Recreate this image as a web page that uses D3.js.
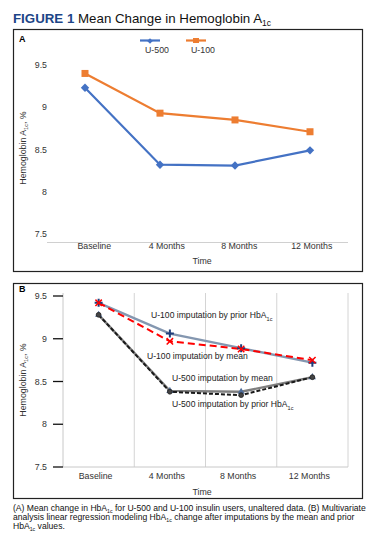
<!DOCTYPE html>
<html><head><meta charset="utf-8">
<script src="https://cdn.jsdelivr.net/npm/d3@7/dist/d3.min.js"></script>
<style>
html,body{margin:0;padding:0;background:#fff;}
svg{display:block;font-family:"Liberation Sans",Arial,Helvetica,sans-serif;}
</style></head>
<body>
<svg id="c" width="376" height="541"></svg>
<script>
// ---- data ----
const categories = ["Baseline", "4 Months", "8 Months", "12 Months"];
const yTicks = [7.5, 8, 8.5, 9, 9.5];
const yTickLabels = ["7.5", "8", "8.5", "9", "9.5"];
// Panel A
const u500 = [9.23, 8.32, 8.31, 8.49];
const u100 = [9.40, 8.93, 8.85, 8.71];
// Panel B
const u100Prior = [9.42, 9.06, 8.89, 8.72];
const u100Mean = [9.42, 8.97, 8.88, 8.75];
const u500Mean = [9.28, 8.39, 8.38, 8.55];
const u500Prior = [9.28, 8.38, 8.34, 8.55];

const svg = d3.select("#c");
const txt = "#333";
const FS = "8.8px";

// ---- title ----
const title = svg.append("text").attr("x", 13).attr("y", 23).attr("font-size", "13.3px").attr("fill", "#111");
title.append("tspan").attr("font-weight", "bold").attr("fill", "#1c4587").text("FIGURE 1");
title.append("tspan").text(" Mean Change in Hemoglobin A");
title.append("tspan").attr("font-size", "8.5px").attr("dy", 3).text("1c");

// ---- panel frames ----
svg.append("rect").attr("x", 13.5).attr("y", 29.5).attr("width", 349).attr("height", 242).attr("fill", "none").attr("stroke", "#222").attr("stroke-width", 1.2);
svg.append("rect").attr("x", 13.5).attr("y", 283.5).attr("width", 349).attr("height", 215).attr("fill", "none").attr("stroke", "#222").attr("stroke-width", 1.2);
svg.append("text").attr("x", 19).attr("y", 42).attr("font-size", "9px").attr("font-weight", "bold").text("A");
svg.append("text").attr("x", 19).attr("y", 292).attr("font-size", "9px").attr("font-weight", "bold").text("B");

function yLabel(g, x, cy) {
  const t = g.append("text").attr("transform", `translate(${x},${cy}) rotate(-90)`)
    .attr("text-anchor", "middle").attr("font-size", FS).attr("fill", txt);
  t.append("tspan").text("Hemoglobin A");
  t.append("tspan").attr("font-size", "5.5px").attr("dy", 2).text("1c");
  t.append("tspan").attr("dy", -2).text(", %");
}

// ================= Panel A =================
const yA = d3.scaleLinear().domain([7.5, 9.5]).range([234, 65]);
const xBandA = d3.scaleBand().domain(categories).range([58, 348]);
const xPtA = d3.scalePoint().domain(categories).range([85, 310]);
const gA = svg.append("g");

gA.append("line").attr("x1", 47).attr("x2", 348).attr("y1", 242.5).attr("y2", 242.5).attr("stroke", "#d0d0d0").attr("stroke-width", 1);
gA.selectAll(".yta").data(yTicks).join("text")
  .attr("x", 47).attr("y", d => yA(d)).attr("dy", "0.35em").attr("text-anchor", "end")
  .attr("font-size", FS).attr("fill", txt).text((d, i) => yTickLabels[i]);
gA.selectAll(".xta").data(categories).join("text")
  .attr("x", d => xBandA(d) + xBandA.bandwidth() / 2).attr("y", 249).attr("text-anchor", "middle")
  .attr("font-size", FS).attr("fill", txt).text(d => d);
gA.append("text").attr("x", 202).attr("y", 264).attr("text-anchor", "middle").attr("font-size", FS).attr("fill", txt).text("Time");
yLabel(gA, 26, 148);

const lineA = vals => d3.line().x((d, i) => xPtA(categories[i])).y(d => yA(d))(vals);
gA.append("path").attr("d", lineA(u500)).attr("fill", "none").attr("stroke", "#4472c4").attr("stroke-width", 2.2);
gA.append("path").attr("d", lineA(u100)).attr("fill", "none").attr("stroke", "#ed7d31").attr("stroke-width", 2.2);
gA.selectAll(".m500").data(u500).join("path")
  .attr("transform", (d, i) => `translate(${xPtA(categories[i])},${yA(d)})`)
  .attr("d", d3.symbol(d3.symbolDiamond2, 45)).attr("fill", "#4472c4");
gA.selectAll(".m100").data(u100).join("rect")
  .attr("x", (d, i) => xPtA(categories[i]) - 3.5).attr("y", d => yA(d) - 3.5)
  .attr("width", 7).attr("height", 7).attr("fill", "#ed7d31");

// legend
const legend = [{name: "U-500", color: "#4472c4", x: 140}, {name: "U-100", color: "#ed7d31", x: 186}];
legend.forEach(l => {
  gA.append("line").attr("x1", l.x).attr("x2", l.x + 20).attr("y1", 40.5).attr("y2", 40.5).attr("stroke", l.color).attr("stroke-width", 2.2);
  if (l.name === "U-500") {
    gA.append("path").attr("transform", `translate(${l.x + 10},41)`).attr("d", d3.symbol(d3.symbolDiamond2, 20)).attr("fill", l.color);
  } else {
    gA.append("rect").attr("x", l.x + 7).attr("y", 38).attr("width", 6).attr("height", 5).attr("fill", l.color);
  }
  gA.append("text").attr("x", l.x + 5).attr("y", 53).attr("font-size", FS).attr("fill", txt).text(l.name);
});

// ================= Panel B =================
const yB = d3.scaleLinear().domain([7.5, 9.5]).range([467, 296]);
const xBandB = d3.scaleBand().domain(categories).range([63, 348]);
const xc = c => xBandB(c) + xBandB.bandwidth() / 2;
const gB = svg.append("g");

const edges = categories.map(c => xBandB(c) + xBandB.bandwidth());
gB.selectAll(".grid").data(edges).join("line")
  .attr("x1", d => d).attr("x2", d => d).attr("y1", 293).attr("y2", 467)
  .attr("stroke", "#d4d4d4").attr("stroke-width", 1);
gB.append("line").attr("x1", 63).attr("x2", 63).attr("y1", 293).attr("y2", 467).attr("stroke", "#c8c8c8").attr("stroke-width", 1);
gB.append("line").attr("x1", 63).attr("x2", 348).attr("y1", 467).attr("y2", 467).attr("stroke", "#c8c8c8").attr("stroke-width", 1);
gB.selectAll(".tk").data(yTicks).join("line")
  .attr("x1", 53).attr("x2", 63).attr("y1", d => yB(d)).attr("y2", d => yB(d))
  .attr("stroke", "#111").attr("stroke-width", 1.3);
gB.selectAll(".ytb").data(yTicks).join("text")
  .attr("x", 47).attr("y", d => yB(d)).attr("dy", "0.35em").attr("text-anchor", "end")
  .attr("font-size", FS).attr("fill", txt).text((d, i) => yTickLabels[i]);
gB.selectAll(".xtb").data(categories).join("text")
  .attr("x", d => xc(d) - 3).attr("y", 479).attr("text-anchor", "middle")
  .attr("font-size", FS).attr("fill", txt).text(d => d);
gB.append("text").attr("x", 202).attr("y", 495).attr("text-anchor", "middle").attr("font-size", FS).attr("fill", txt).text("Time");
yLabel(gB, 26, 380);

const lineB = vals => d3.line().x((d, i) => xc(categories[i])).y(d => yB(d))(vals);
gB.append("path").attr("d", lineB(u500Mean)).attr("fill", "none").attr("stroke", "#7f7f7f").attr("stroke-width", 2.4);
gB.append("path").attr("d", lineB(u500Prior)).attr("fill", "none").attr("stroke", "#1a1a1a").attr("stroke-width", 2).attr("stroke-dasharray", "4,2");
gB.append("path").attr("d", lineB(u100Prior)).attr("fill", "none").attr("stroke", "#8497b0").attr("stroke-width", 2.4);
gB.append("path").attr("d", lineB(u100Mean)).attr("fill", "none").attr("stroke", "#ff0000").attr("stroke-width", 2).attr("stroke-dasharray", "7,4");

gB.selectAll(".mu5m").data(u500Mean).join("path")
  .attr("transform", (d, i) => `translate(${xc(categories[i])},${yB(d)})`)
  .attr("d", d3.symbol(d3.symbolTriangle, 22)).attr("fill", "#4f6d9a");
gB.selectAll(".mu5p").data(u500Prior).join("circle")
  .attr("cx", (d, i) => xc(categories[i])).attr("cy", d => yB(d)).attr("r", 2.4)
  .attr("fill", "#444").attr("stroke", "#222").attr("stroke-width", 0.8);
gB.selectAll(".mu1p").data(u100Prior).join("path")
  .attr("transform", (d, i) => `translate(${xc(categories[i])},${yB(d)})`)
  .attr("d", "M-4,0H4M0,-4V4").attr("stroke", "#1f3d7a").attr("stroke-width", 2);
gB.selectAll(".mu1m").data(u100Mean).join("path")
  .attr("transform", (d, i) => `translate(${xc(categories[i])},${yB(d)})`)
  .attr("d", "M-3.2,-3.2L3.2,3.2M-3.2,3.2L3.2,-3.2").attr("stroke", "#ff0000").attr("stroke-width", 1.5);

const seriesLabels = [
  {text: "U-100 imputation by prior HbA", sub: "1c", x: 151, y: 318},
  {text: "U-100 imputation by mean", sub: null, x: 147, y: 359},
  {text: "U-500 imputation by mean", sub: null, x: 172, y: 381},
  {text: "U-500 imputation by prior HbA", sub: "1c", x: 172, y: 407}
];
seriesLabels.forEach(s => {
  const t = gB.append("text").attr("x", s.x).attr("y", s.y).attr("font-size", "8.6px").attr("fill", "#222");
  t.append("tspan").text(s.text);
  if (s.sub) t.append("tspan").attr("font-size", "5.5px").attr("dy", 2.5).text(s.sub);
});

// ---- caption ----
const capLines = [
  [["(A) Mean change in HbA", 0], ["1c", 1], [" for U-500 and U-100 insulin users, unaltered data. (B) Multivariate", 0]],
  [["analysis linear regression modeling HbA", 0], ["1c", 1], [" change after imputations by the mean and prior", 0]],
  [["HbA", 0], ["1c", 1], [" values.", 0]]
];
capLines.forEach((ln, li) => {
  const t = svg.append("text").attr("x", 13).attr("y", 511 + li * 9).attr("font-size", "8.6px").attr("fill", "#111");
  ln.forEach(([s, sub], k) => {
    if (sub) t.append("tspan").attr("font-size", "5.2px").attr("dy", 1.6).text(s);
    else t.append("tspan").attr("dy", k ? -1.6 : 0).text(s);
  });
});
</script>
</body></html>
